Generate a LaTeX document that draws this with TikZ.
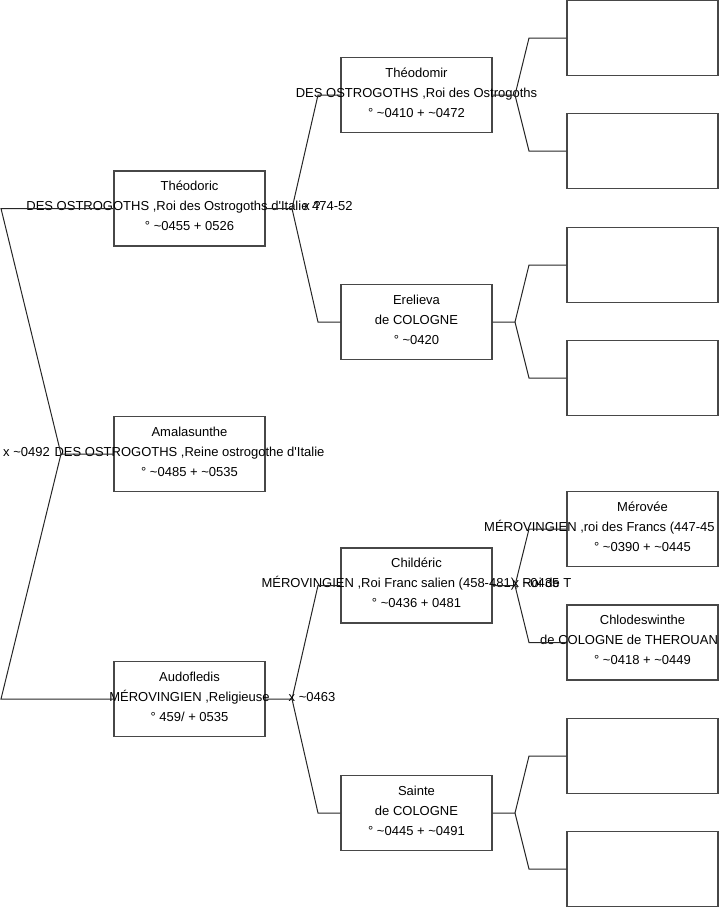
\documentclass[tikz,border=0pt]{standalone}
\usepackage{fontspec}
\setmainfont{Liberation Sans}
\newcommand{\tl}{\textasciitilde}
\newcommand{\qs}{\textquotesingle}
\tikzset{
  pbox/.style={draw=black!72, line width=1.1pt, minimum width=151pt, minimum height=75pt, inner sep=0pt},
  ptxt/.style={anchor=base, inner sep=0pt, font=\fontsize{13}{15}\selectfont},
  conn/.style={draw=black!85, line width=1pt},
}
\newcommand{\pers}[6]{%
  \node[pbox] (#1) at (#2,#3) {};
  \node[ptxt] (#1-a) at (#2,#3-18) {#4};
  \node[ptxt] (#1-b) at (#2,#3+2) {#5};
  \node[ptxt] (#1-c) at (#2,#3+22) {#6};
}
\begin{document}
\begin{tikzpicture}[x=1pt,y=-1pt]
\useasboundingbox (0,0) rectangle (719,908);
% column 1
\pers{theodoric}{189.5}{208.5}{Théodoric}{DES OSTROGOTHS ,Roi des Ostrogoths d\qs Italie 474-52}{° \tl0455 + 0526}
\pers{amala}{189.5}{454}{Amalasunthe}{DES OSTROGOTHS ,Reine ostrogothe d\qs Italie}{° \tl0485 + \tl0535}
\pers{audo}{189.5}{699}{Audofledis}{MÉROVINGIEN ,Religieuse}{° 459/ + 0535}
% column 2
\pers{theodomir}{416.5}{95}{Théodomir}{DES OSTROGOTHS ,Roi des Ostrogoths}{° \tl0410 + \tl0472}
\pers{erelieva}{416.5}{322}{Erelieva}{de COLOGNE}{° \tl0420}
\pers{childeric}{416.5}{585.5}{Childéric}{MÉROVINGIEN ,Roi Franc salien (458-481), Roi de T}{° \tl0436 + 0481}
\pers{sainte}{416.5}{813}{Sainte}{de COLOGNE}{° \tl0445 + \tl0491}
% column 3
\node[pbox] (e1) at (642.5,38) {};
\node[pbox] (e2) at (642.5,151) {};
\node[pbox] (e3) at (642.5,265) {};
\node[pbox] (e4) at (642.5,378) {};
\node[pbox] (merovee) at (642.5,529) {};
\node[ptxt] (merovee-a) at (642.5,511) {Mérovée};
\node[ptxt, anchor=base west] (merovee-b) at (484,531) {MÉROVINGIEN ,roi des Francs (447-45};
\node[ptxt] (merovee-c) at (642.5,551) {° \tl0390 + \tl0445};
\node[pbox] (chlodes) at (642.5,642.5) {};
\node[ptxt] (chlodes-a) at (642.5,624.5) {Chlodeswinthe};
\node[ptxt, anchor=base west] (chlodes-b) at (540,644.5) {de COLOGNE de THEROUAN};
\node[ptxt] (chlodes-c) at (642.5,664.5) {° \tl0418 + \tl0449};
\node[pbox] (e7) at (642.5,756) {};
\node[pbox] (e8) at (642.5,869) {};
% root fork
\coordinate (f0) at (61,454);
\coordinate (f0a) at (1,208.5);
\coordinate (f0b) at (1,699);
\draw[conn] (amala.west) -- (f0) -- (f0a) -- (theodoric.west);
\draw[conn] (f0) -- (f0b) -- (audo.west);
\node[ptxt, anchor=base west] (m0) at (3,456) {x \tl0492};
% Theodoric fork
\coordinate (f1) at (292,208.5);
\draw[conn] (theodoric.east) -- (f1) -- (318,95) -- (theodomir.west);
\draw[conn] (f1) -- (318,322) -- (erelieva.west);
\node[ptxt] (m1) at (312,210.5) {x ?};
% Audofledis fork
\coordinate (f2) at (292,699);
\draw[conn] (audo.east) -- (f2) -- (318,585.5) -- (childeric.west);
\draw[conn] (f2) -- (318,813) -- (sainte.west);
\node[ptxt] (m2) at (312,701) {x \tl0463};
% column 2 forks
\coordinate (f3) at (515,95);
\draw[conn] (theodomir.east) -- (f3) -- (529,38) -- (e1.west);
\draw[conn] (f3) -- (529,151) -- (e2.west);
\coordinate (f4) at (515,322);
\draw[conn] (erelieva.east) -- (f4) -- (529,265) -- (e3.west);
\draw[conn] (f4) -- (529,378) -- (e4.west);
\coordinate (f5) at (515,585.5);
\draw[conn] (childeric.east) -- (f5) -- (529,529) -- (merovee.west);
\draw[conn] (f5) -- (529,642.5) -- (chlodes.west);
\node[ptxt] (m5) at (536,587.5) {x \tl0435};
\coordinate (f6) at (515,813);
\draw[conn] (sainte.east) -- (f6) -- (529,756) -- (e7.west);
\draw[conn] (f6) -- (529,869) -- (e8.west);
\end{tikzpicture}
\end{document}
